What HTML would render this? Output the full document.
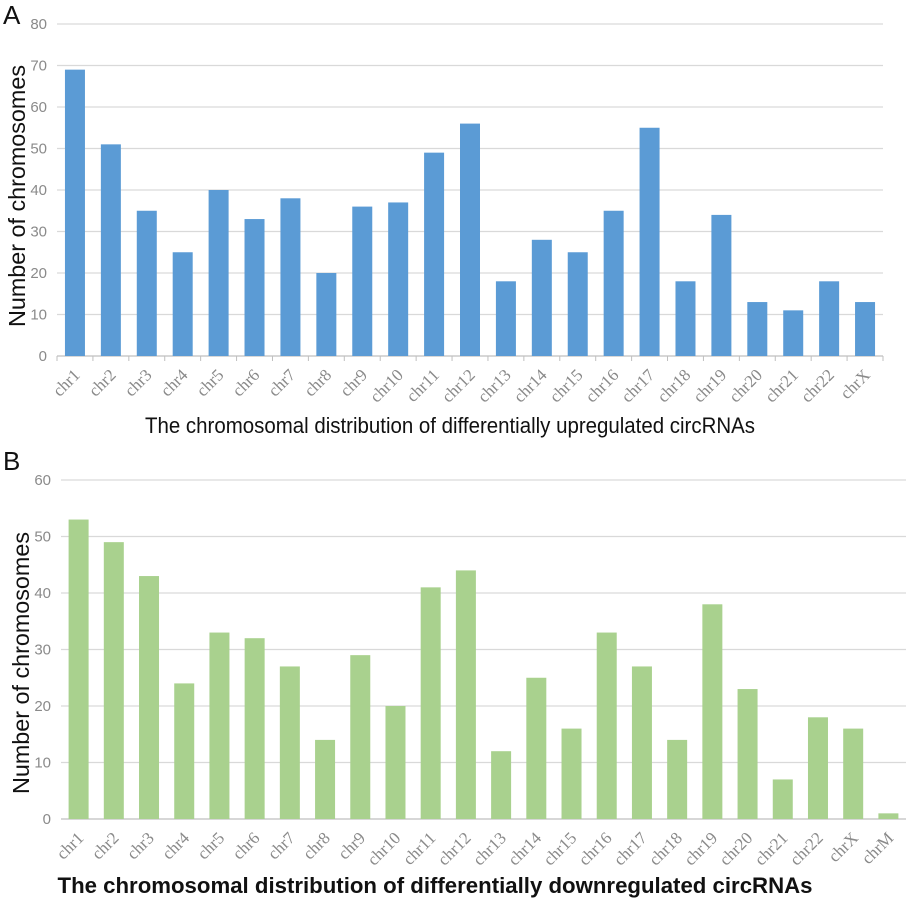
<!DOCTYPE html>
<html><head><meta charset="utf-8"><style>
body{margin:0;background:#fff;}
svg{display:block;font-family:"Liberation Sans",sans-serif;}
.tick{fill:#8a8a8a;font-size:15px;}
.xl{fill:#8a8a8a;font-size:17px;font-family:"Liberation Serif",serif;}
</style></head><body>
<svg id="chart" width="906" height="911"></svg>
<script>
const catsA=["chr1","chr2","chr3","chr4","chr5","chr6","chr7","chr8","chr9","chr10","chr11","chr12","chr13","chr14","chr15","chr16","chr17","chr18","chr19","chr20","chr21","chr22","chrX"];
const valsA=[69,51,35,25,40,33,38,20,36,37,49,56,18,28,25,35,55,18,34,13,11,18,13];
const ticksA=[0,10,20,30,40,50,60,70,80];
const catsB=["chr1","chr2","chr3","chr4","chr5","chr6","chr7","chr8","chr9","chr10","chr11","chr12","chr13","chr14","chr15","chr16","chr17","chr18","chr19","chr20","chr21","chr22","chrX","chrM"];
const valsB=[53,49,43,24,33,32,27,14,29,20,41,44,12,25,16,33,27,14,38,23,7,18,16,1];
const ticksB=[0,10,20,30,40,50,60];
const NS="http://www.w3.org/2000/svg";
const svg=document.getElementById('chart');
function mk(tag,attrs,parent,text){const e=document.createElementNS(NS,tag);for(const k in attrs)e.setAttribute(k,attrs[k]);if(text!==undefined)e.textContent=text;(parent||svg).appendChild(e);return e;}
function panel(o){
  const g=mk('g',{});
  
  
  const y=v=>o.y0-(v/o.max)*(o.y0-o.y1);
  const step=(o.x1-o.x0)/o.cats.length;
  const x=i=>o.x0+i*step;
  o.ticks.forEach(t=>{
    if(t>0){const l=mk('line',{x1:o.x0,x2:o.x1,y1:y(t),y2:y(t),stroke:'#d9d9d9','stroke-width':1.3},g);
    
    }
    const tx=mk('text',{x:o.x0-10,y:y(t)+5,'text-anchor':'end',class:'tick'},g,t);
    
    
  });
  const ax=mk('line',{x1:o.x0,x2:o.x1,y1:o.y0,y2:o.y0,stroke:'#bfbfbf','stroke-width':1.3},g);
  
  
  o.cats.forEach((c,i)=>{
    if(o.tickMarks){const tk=mk('line',{x1:x(i),x2:x(i),y1:o.y0,y2:o.y0+5,stroke:'#bfbfbf'},g);
    
    }
    const cx=x(i)+step/2;
    const b=mk('rect',{x:cx-10,width:20,y:y(o.vals[i]),height:o.y0-y(o.vals[i]),fill:o.color},g);
    
    
    const t=mk('text',{x:cx+6,y:o.y0+20,'text-anchor':'end',class:'xl',transform:`rotate(-45 ${cx+6} ${o.y0+20})`},g,c);
    
    
  });
  if(o.tickMarks){const tk=mk('line',{x1:o.x1,x2:o.x1,y1:o.y0,y2:o.y0+5,stroke:'#bfbfbf'},g);
  
  }
  const xt=mk('text',{x:o.xtX,y:o.xtY,'text-anchor':'middle','font-size':o.xtSize,fill:'#111','font-weight':o.bold?'bold':'normal',textLength:o.xtLen,lengthAdjust:'spacingAndGlyphs'},g,o.xtitle);
  
  
  const yt=mk('text',{x:0,y:0,'text-anchor':'middle','font-size':23,fill:'#111',textLength:o.ytLen,lengthAdjust:'spacingAndGlyphs',transform:`translate(${o.ytX},${o.ytY}) rotate(-90)`},g,'Number of chromosomes');
  
  
  const lt=mk('text',{x:3,y:o.letterY,'font-size':26,fill:'#111'},g,o.letter);
  
  
}
panel({name:'chart-upregulated',cats:catsA,vals:valsA,ticks:ticksA,max:80,x0:57,x1:883,y0:356,y1:24,color:'#5b9bd5',tickMarks:true,
  xtitle:'The chromosomal distribution of differentially upregulated circRNAs',xtX:450,xtY:433,xtSize:22,xtLen:610,bold:false,ytX:25,ytY:196,ytLen:262,letter:'A',letterY:24});
panel({name:'chart-downregulated',cats:catsB,vals:valsB,ticks:ticksB,max:60,x0:61,x1:906,y0:819,y1:480,color:'#a9d18e',tickMarks:false,
  xtitle:'The chromosomal distribution of differentially downregulated circRNAs',xtX:435,xtY:893,xtSize:22,xtLen:755,bold:true,ytX:29,ytY:663,ytLen:262,letter:'B',letterY:470});
</script>
</body></html>
